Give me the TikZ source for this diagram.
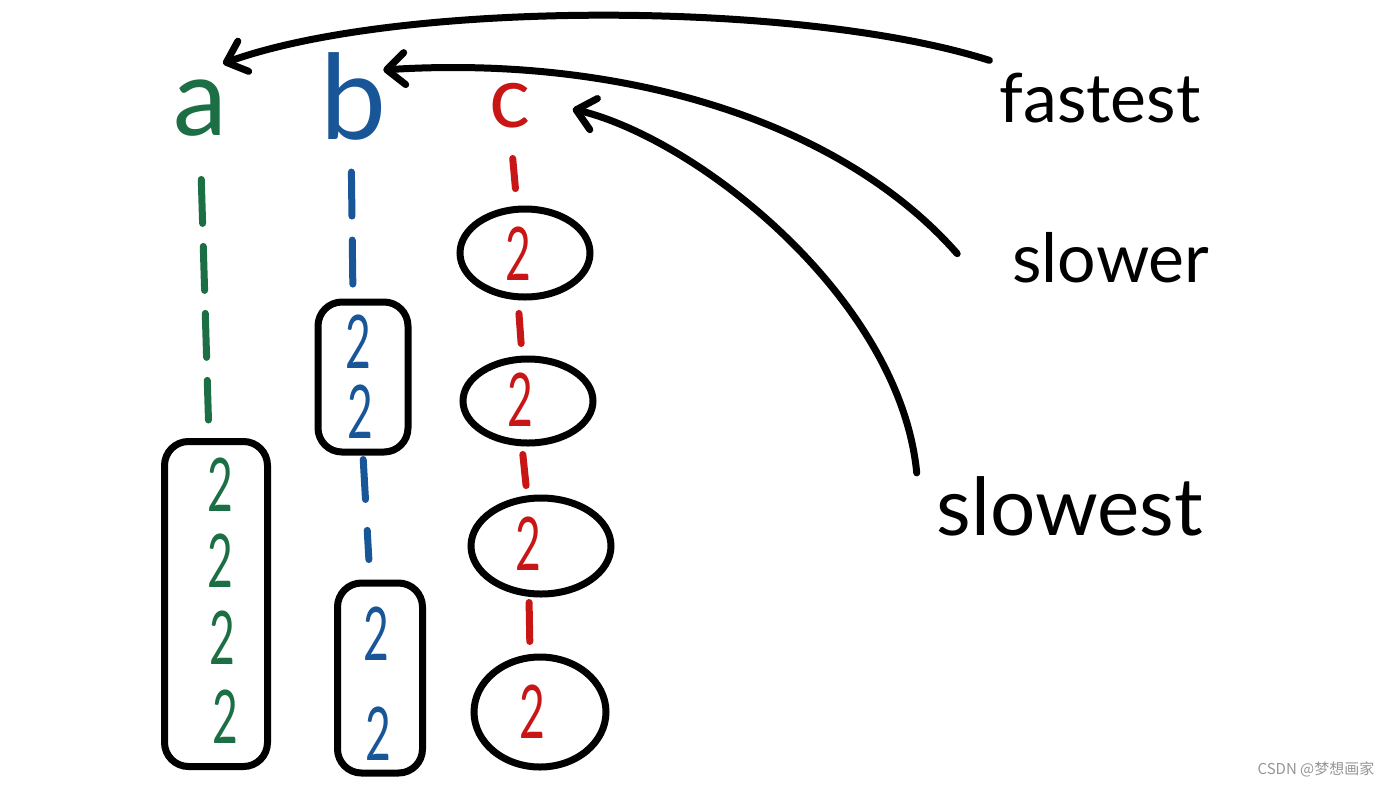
\documentclass[tikz,border=0pt]{standalone}
\usepackage{graphicx}
\usepackage{fontspec}
\setmainfont{Lato}
\newfontfamily\cjk{Noto Sans CJK SC}
\usetikzlibrary{arrows.meta,shapes.geometric,calc}
\definecolor{hgreen}{RGB}{28,110,68}
\definecolor{hblue}{RGB}{24,86,152}
\definecolor{hred}{RGB}{200,22,22}
\definecolor{wmark}{RGB}{150,150,150}
\begin{document}
\begin{tikzpicture}[x=1pt,y=-1pt,
  ink/.style={line width=7pt,line cap=round,line join=round},
  boxnode/.style={draw,line width=7pt,rounded corners=24pt,inner sep=0pt},
  oval/.style={draw,ellipse,line width=7pt,inner sep=0pt},
  letter/.style={inner sep=0pt},
  two/.style={inner sep=0pt,font=\fontsize{74}{74}\selectfont},
  word/.style={inner sep=0pt,anchor=base,font=\fontsize{68}{68}\selectfont},
  arr/.style={ink,-{Straight Barb[length=18pt,width=32pt,round]}},
  gdash/.style={ink,hgreen,dash pattern=on 44pt off 23pt},
  bdash/.style={ink,hblue,dash pattern=on 44pt off 24pt},
  rdash/.style={ink,hred}
]
\useasboundingbox[fill=white] (0,0) rectangle (1400,788);

% column letters
\node[letter,hgreen,font=\fontsize{108}{108}\selectfont] (a) at (200,108) {a};
\node[letter,hblue,font=\fontsize{118}{118}\selectfont] (b) at (354,96) {b};
\node[letter,hred,font=\fontsize{86}{86}\selectfont] (c) at (510,106) {c};

% green group
\node[boxnode,minimum width=103pt,minimum height=325pt] (A) at (216,604) {};
\node[two,hgreen] (a1) at (220,485) {\scalebox{.6}[1]{2}};
\node[two,hgreen] (a2) at (220,561) {\scalebox{.6}[1]{2}};
\node[two,hgreen] (a3) at (222,638) {\scalebox{.6}[1]{2}};
\node[two,hgreen] (a4) at (225,717) {\scalebox{.6}[1]{2}};

% blue groups
\node[boxnode,minimum width=90pt,minimum height=150pt] (B1) at (363,377) {};
\node[two,hblue] (b1) at (358,342) {\scalebox{.6}[1]{2}};
\node[two,hblue] (b2) at (360,412) {\scalebox{.6}[1]{2}};
\node[boxnode,minimum width=85pt,minimum height=190pt] (B2) at (380,678) {};
\node[two,hblue] (b3) at (376,634) {\scalebox{.6}[1]{2}};
\node[two,hblue] (b4) at (378,734) {\scalebox{.6}[1]{2}};

% red groups
\node[oval,minimum width=130pt,minimum height=88pt] (C1) at (525,253) {};
\node[two,hred] (c1) at (518,254) {\scalebox{.6}[1]{2}};
\node[oval,minimum width=130pt,minimum height=84pt] (C2) at (528,401) {};
\node[two,hred] (c2) at (520,400) {\scalebox{.6}[1]{2}};
\node[oval,minimum width=140pt,minimum height=96pt] (C3) at (541,546) {};
\node[two,hred] (c3) at (528,544) {\scalebox{.6}[1]{2}};
\node[oval,minimum width=132pt,minimum height=110pt] (C4) at (540,712) {};
\node[two,hred] (c4) at (532,712) {\scalebox{.6}[1]{2}};

% dashed columns
\draw[gdash,shorten <=43pt,shorten >=18pt] (a.south) -- ([xshift=-7pt]A.north);
\draw[bdash,shorten <=32pt,shorten >=12pt] ([xshift=-3pt]b.south) -- ([xshift=-10pt]B1.north);
\draw[bdash,shorten <=4pt,shorten >=20pt,dash pattern=on 40pt off 31pt] (B1.south) -- ([xshift=-10pt]B2.north);
\draw[rdash,shorten <=30pt,shorten >=17pt] (c.south) -- ([xshift=-8pt]C1.north);
\draw[rdash,shorten <=13pt,shorten >=12pt] ([xshift=-7pt]C1.south) -- ([xshift=-6pt]C2.north);
\draw[rdash,shorten <=8pt,shorten >=9pt] ([xshift=-6pt]C2.south) -- ([xshift=-14pt]C3.north);
\draw[rdash,shorten <=5pt,shorten >=12pt] ([xshift=-12pt]C3.south) -- ([xshift=-10pt]C4.north);

% labels
\node[word] (fastest) at (1100,122) {fastest};
\node[word] (slower) at (1111,282) {slower};
\node[word,font=\fontsize{80}{80}\selectfont] (slowest) at (1070,535) {slowest};

% arrows
\draw[arr] ([shift={(-10,-12)}]fastest.north west) .. controls (800,0) and (400,0) .. ([shift={(-4,-16)}]a.north east);
\draw[arr] ([shift={(-55,22)}]slower.north west) .. controls (840,120) and (620,55) .. ([shift={(-4,18)}]b.north east);
\draw[arr] ([shift={(-20,-3)}]slowest.north west) .. controls (900,300) and (700,140) .. ([shift={(42,3)}]c.east);

% watermark
\node[inner sep=0pt,wmark,font=\cjk\fontsize{15}{15}\selectfont] (wm) at (1316,769) {CSDN @梦想画家};
\end{tikzpicture}
\end{document}
